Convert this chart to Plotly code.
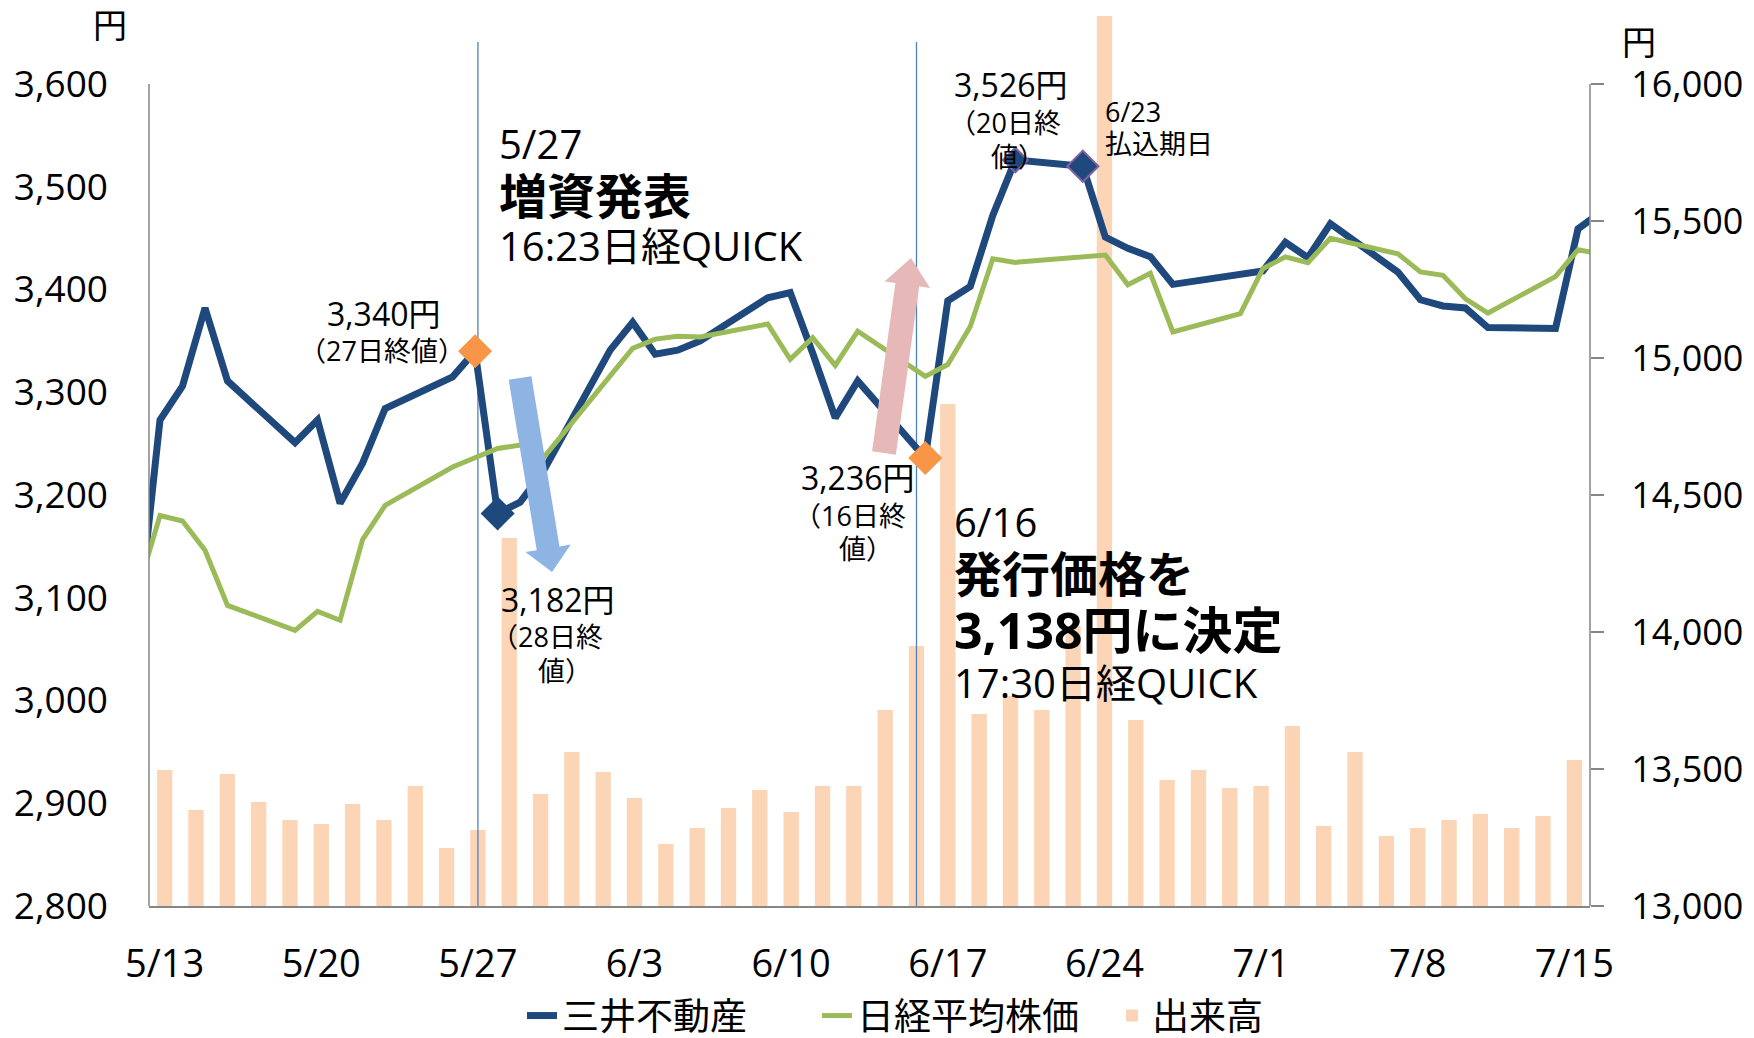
import plotly.graph_objects as go

# trading days shown by the lines (one extra day on each side, clipped by the axis)
dates = [
    "2014-05-12", "2014-05-13", "2014-05-14", "2014-05-15", "2014-05-16",
    "2014-05-19", "2014-05-20", "2014-05-21", "2014-05-22", "2014-05-23",
    "2014-05-26", "2014-05-27", "2014-05-28", "2014-05-29", "2014-05-30",
    "2014-06-02", "2014-06-03", "2014-06-04", "2014-06-05", "2014-06-06",
    "2014-06-09", "2014-06-10", "2014-06-11", "2014-06-12", "2014-06-13",
    "2014-06-16", "2014-06-17", "2014-06-18", "2014-06-19", "2014-06-20",
    "2014-06-23", "2014-06-24", "2014-06-25", "2014-06-26", "2014-06-27",
    "2014-06-30", "2014-07-01", "2014-07-02", "2014-07-03", "2014-07-04",
    "2014-07-07", "2014-07-08", "2014-07-09", "2014-07-10", "2014-07-11",
    "2014-07-14", "2014-07-15", "2014-07-16",
]
# 三井不動産 close (yen)
mitsui = [
    3070, 3273, 3306, 3382, 3311,
    3251, 3273, 3192, 3231, 3284,
    3315, 3340, 3182, 3193, 3222,
    3341, 3368, 3337, 3341, 3350,
    3392, 3397, 3338, 3275, 3311,
    3236, 3389, 3403, 3472, 3526,
    3520, 3451, 3440, 3432, 3405,
    3415, 3418, 3446, 3431, 3464,
    3417, 3390, 3384, 3382, 3363,
    3362, 3459, 3475,
]
# 日経平均株価 close (yen)
nikkei = [
    14150, 14425, 14405, 14298, 14097,
    14006, 14075, 14043, 14337, 14462,
    14602, 14636, 14670, 14682, 14632,
    14935, 15035, 15069, 15079, 15077,
    15124, 14995, 15074, 14973, 15098,
    14933, 14976, 15115, 15362, 15349,
    15369, 15376, 15267, 15309, 15095,
    15162, 15326, 15369, 15348, 15437,
    15380, 15314, 15302, 15216, 15164,
    15297, 15395, 15380,
]
# 出来高 (万株), 5/13 - 7/15
volume = [
    680, 480, 660, 520, 430, 410, 510, 430, 600, 290,
    380, 1840, 560, 770, 670, 540, 310, 390, 490, 580,
    470, 600, 600, 980, 1300, 2510, 960, 1050, 980, 1400,
    4450, 930, 630, 680, 590, 600, 900, 400, 770, 350,
    390, 430, 460, 390, 450, 730,
]
bar_days = ["%d/%d" % (int(d[5:7]), int(d[8:10])) for d in dates[1:-1]]
tick_days = bar_days[::5]

# highlighted closes: (date, value, fill, outline, size)
marks = [
    ("2014-05-27", 3340, "#F79646", "#F79646", 24),
    ("2014-05-28", 3182, "#1F497D", "#1F497D", 24),
    ("2014-06-16", 3236, "#F79646", "#F79646", 24),
    ("2014-06-20", 3526, "#1F497D", "#8064A2", 19),
    ("2014-06-23", 3520, "#1F497D", "#8064A2", 24),
]
event_days = ["5/27", "6/16"]

FONT = "Open Sans, Noto Sans CJK JP"
W, H = 1754, 1038
L, R, T, B = 149, 1590, 10, 906
# pixel positions of the axis end values in the picture
Y_3600, Y_2800 = 84, 906
price_top = 2800 + (B - T) * 800 / (Y_2800 - Y_3600)
nikkei_top = 13000 + (B - T) * 3000 / (Y_2800 - Y_3600)
vol_top = (B - T) * 5


def paper(x, y):
    return (x - L) / (R - L), (B - y) / (B - T)


def arrow_path(tail, tip, shaft, head, head_len):
    (x0, y0), (x1, y1) = tail, tip
    dx, dy = x1 - x0, y1 - y0
    n = (dx * dx + dy * dy) ** 0.5
    ux, uy = dx / n, dy / n
    px_, py_ = -uy, ux
    bx, by = x1 - ux * head_len, y1 - uy * head_len
    pts = [
        (x0 + px_ * shaft / 2, y0 + py_ * shaft / 2),
        (bx + px_ * shaft / 2, by + py_ * shaft / 2),
        (bx + px_ * head / 2, by + py_ * head / 2),
        (x1, y1),
        (bx - px_ * head / 2, by - py_ * head / 2),
        (bx - px_ * shaft / 2, by - py_ * shaft / 2),
        (x0 - px_ * shaft / 2, y0 - py_ * shaft / 2),
    ]
    pp = [paper(*p) for p in pts]
    return "M" + " L".join("%.5f,%.5f" % p for p in pp) + " Z"


fig = go.Figure()

fig.add_trace(
    go.Scatter(
        x=dates, y=mitsui, name="三井不動産", mode="lines",
        line=dict(color="#1F497D", width=7), xaxis="x2", yaxis="y2",
    )
)
fig.add_trace(
    go.Scatter(
        x=dates, y=nikkei, name="日経平均株価", mode="lines",
        line=dict(color="#9BBB59", width=5), xaxis="x2", yaxis="y3",
    )
)
fig.add_trace(
    go.Bar(
        x=bar_days, y=volume, name="出来高", marker=dict(color="#FBD5B5", line_width=0),
        xaxis="x", yaxis="y",
    )
)
for d in event_days:
    fig.add_trace(
        go.Scatter(
            x=[d, d], y=[0, (B - 42) * 5], mode="lines", showlegend=False,
            line=dict(color="#4F81BD", width=1.3), hoverinfo="skip",
            xaxis="x", yaxis="y",
        )
    )
for d, v, fill, edge, size in marks:
    fig.add_trace(
        go.Scatter(
            x=[d], y=[v], mode="markers", showlegend=False,
            marker=dict(symbol="diamond", size=size, color=fill, line=dict(color=edge, width=2)),
            xaxis="x2", yaxis="y2",
        )
    )

# arrows
shapes = [
    dict(type="path", xref="paper", yref="paper", line_width=0, fillcolor="#8DB4E2",
         path=arrow_path((520, 378), (552, 572), 23, 46, 24)),
    dict(type="path", xref="paper", yref="paper", line_width=0, fillcolor="#E6B9B8",
         path=arrow_path((884, 453), (911, 258), 24, 46, 27)),
    # axis lines only over the labelled range
    dict(type="line", xref="paper", yref="y2", x0=0, x1=0, y0=2800, y1=3600,
         line=dict(color="#868686", width=1.5)),
    dict(type="line", xref="paper", yref="y3", x0=1, x1=1, y0=13000, y1=16000,
         line=dict(color="#868686", width=1.5)),
]

texts = [
    ("円", 110, 25, 34, "center", False),
    ("円", 1639, 42, 34, "center", False),
    ("3,340円", 383, 313, 32, "center", False),
    ("（27日終値）", 382, 350, 27, "center", False),
    ("5/27", 497, 144, 40, "left", False),
    ("増資発表", 497, 195, 48, "left", True),
    ("16:23日経QUICK", 497, 246, 40, "left", False),
    ("3,182円", 557, 599, 32, "center", False),
    ("（28日終", 547, 636, 27, "center", False),
    ("値）", 565, 670, 27, "center", False),
    ("3,236円", 857, 477, 32, "center", False),
    ("（16日終", 850, 515, 27, "center", False),
    ("値）", 866, 548, 27, "center", False),
    ("3,526円", 1010, 85, 32, "center", False),
    ("（20日終", 1005, 122, 27, "center", False),
    ("値）", 1018, 156, 27, "center", False),
    ("6/23", 1103, 111, 27, "left", False),
    ("払込期日", 1103, 143, 27, "left", False),
    ("6/16", 952, 521, 40, "left", False),
    ("発行価格を", 952, 573, 48, "left", True),
    ("3,138円に決定", 952, 630, 50, "left", True),
    ("17:30日経QUICK", 952, 682, 40, "left", False),
]
annotations = []
for txt, x, y, size, anchor, bold in texts:
    px, py = paper(x, y)
    annotations.append(
        dict(
            text="<b>%s</b>" % txt if bold else txt,
            x=px, y=py, xref="paper", yref="paper",
            xanchor=anchor, yanchor="middle", align="center", showarrow=False,
            font=dict(family=FONT, size=size, color="#000000"),
        )
    )

fig.update_layout(
    width=W, height=H, autosize=False,
    margin=dict(l=L, r=W - R, t=T, b=H - B, pad=0, autoexpand=False),
    paper_bgcolor="white", plot_bgcolor="white",
    font=dict(family=FONT, size=36, color="#000000"),
    bargap=0.51,
    showlegend=True,
    legend=dict(
        orientation="h", xref="paper", x=paper(522, 0)[0], xanchor="left",
        yref="container", y=1 - 1016 / H, yanchor="middle",
        entrywidth=250, entrywidthmode="pixels",
        font=dict(family=FONT, size=37), bgcolor="rgba(0,0,0,0)",
    ),
    xaxis=dict(
        type="category", categoryorder="array", categoryarray=bar_days,
        tickmode="array", tickvals=tick_days, ticktext=tick_days,
        showline=True, linecolor="#868686", linewidth=1.5, ticks="",
        showgrid=False, zeroline=False, ticklabelstandoff=24,
        tickfont=dict(size=38), automargin=False,
    ),
    xaxis2=dict(
        type="date", overlaying="x", visible=False,
        range=["2014-05-12 12:16", "2014-07-15 12:48"],
    ),
    yaxis=dict(range=[0, vol_top], visible=False),
    yaxis2=dict(
        overlaying="y", side="left", range=[2800, price_top],
        tickmode="array", tickvals=list(range(2800, 3601, 100)),
        tickformat=",d", showline=False, ticks="", showgrid=False, zeroline=False,
        ticklabelstandoff=40, tickfont=dict(size=37), automargin=False,
    ),
    yaxis3=dict(
        overlaying="y", side="right", range=[13000, nikkei_top],
        tickmode="array", tickvals=list(range(13000, 16001, 500)),
        tickformat=",d", showline=False, ticks="outside", ticklen=13,
        tickcolor="#868686", tickwidth=1.5, showgrid=False, zeroline=False,
        ticklabelstandoff=20, tickfont=dict(size=36), automargin=False,
    ),
    shapes=shapes,
    annotations=annotations,
)

# the page's default body margin would shift the 1754x1038 figure
fig.write_html(
    "out.html",
    config={"displayModeBar": False},
    post_script="document.body.style.margin = '0';",
)
